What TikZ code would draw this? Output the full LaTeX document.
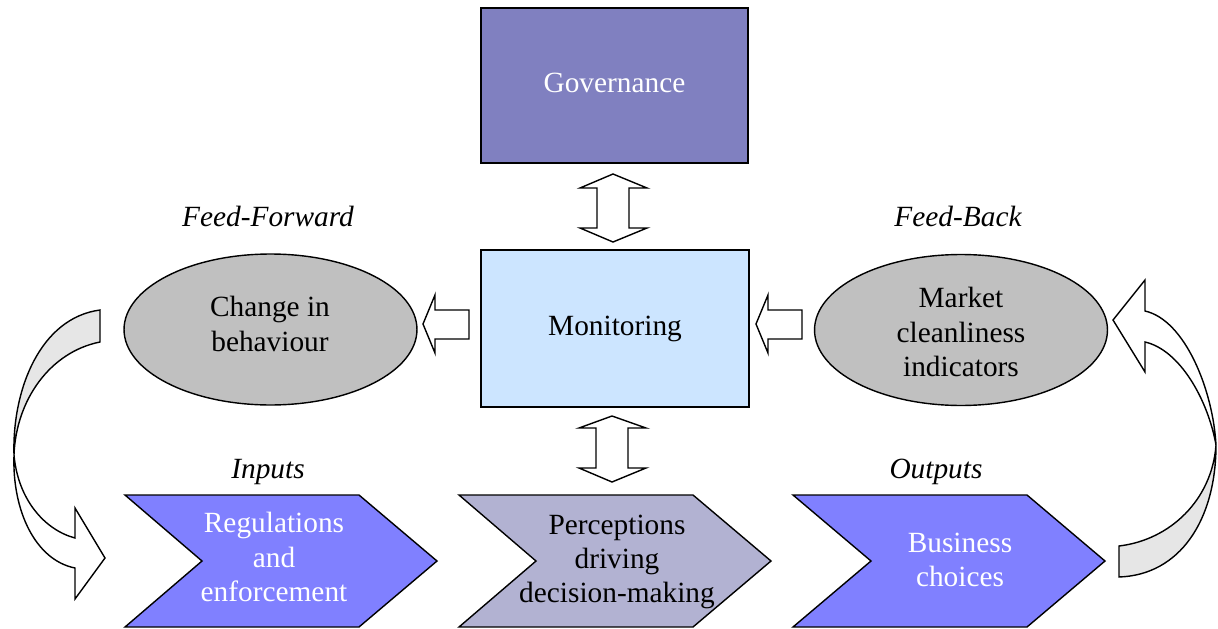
\documentclass[tikz,border=0pt]{standalone}
\usepackage{fontspec}
\setmainfont{Liberation Serif}
\usetikzlibrary{shapes.geometric}
\definecolor{govfill}{HTML}{8080C0}
\definecolor{monfill}{HTML}{CCE5FF}
\definecolor{ovalfill}{HTML}{C0C0C0}
\definecolor{chevfill}{HTML}{8080FF}
\definecolor{midfill}{HTML}{B2B2D2}
\definecolor{bandfill}{HTML}{E6E6E6}
\begin{document}
\begin{tikzpicture}[x=0.02cm,y=-0.02cm,line width=0.8pt,
    every node/.style={font=\fontsize{16.7}{19.6}\selectfont,align=center},
    box/.style={draw,inner sep=0pt},
    oval/.style={draw,ellipse,fill=ovalfill,minimum width=5.86cm,minimum height=3.02cm,inner sep=0pt},
    flowlabel/.style={font=\fontsize{16.7}{19.6}\selectfont\itshape},
    blockarrow/.style={draw,fill=white,line join=miter},
    band/.style={draw,fill=bandfill}]
  \useasboundingbox (0,0) rectangle (1218,629);
  % boxes and ovals
  \node[box,fill=govfill,text=white,text depth=0.12cm,minimum width=5.34cm,minimum height=3.1cm] (gov) at (614.5,85.5) {Governance};
  \node[box,fill=monfill,minimum width=5.36cm,minimum height=3.14cm] (mon) at (615,328.5) {Monitoring};
  \node[oval] (change) at (270.5,329.5) {};
  \node (changetext) at (270,324) {Change in\\behaviour};
  \node[oval] (market) at (961,330) {};
  \node (markettext) at (961,332) {Market\\cleanliness\\indicators};
  \node[flowlabel] (ff) at (268,216) {Feed-Forward};
  \node[flowlabel] (fb) at (958,216) {Feed-Back};
  \node[flowlabel] (inputs) at (268,472) {Inputs};
  \node[flowlabel] (outputs) at (936,472) {Outputs};
  % block arrows round monitoring
  \begin{scope}[blockarrow]
    \draw (613,174) -- (647,188) -- (629,188) -- (629,228) -- (647,228) -- (613,242)
      -- (580,228) -- (597,228) -- (597,188) -- (580,188) -- cycle;
    \draw (612,416) -- (646,428) -- (628,428) -- (628,468) -- (646,468) -- (612,482)
      -- (579,468) -- (596,468) -- (596,428) -- (579,428) -- cycle;
    \draw (423,324) -- (435,295) -- (435,310) -- (469,310) -- (469,339) -- (435,339) -- (435,353) -- cycle;
    \draw (756,324) -- (768,295) -- (768,310) -- (802,310) -- (802,339) -- (768,339) -- (768,353) -- cycle;
  \end{scope}
  % chevrons
  \draw[fill=chevfill] (125,495) -- (359,495) -- (437,561) -- (359,627) -- (125,627) -- (202,561) -- cycle;
  \node[text=white] (reg) at (274,557) {Regulations\\and\\enforcement};
  \draw[fill=midfill] (459,495) -- (693,495) -- (771,561) -- (693,627) -- (459,627) -- (536,561) -- cycle;
  \node (perc) at (617,562) {Perceptions\\driving\\decision-making};
  \draw[fill=chevfill] (793,495) -- (1027,495) -- (1105,561) -- (1027,627) -- (793,627) -- (871,561) -- cycle;
  \node[text=white] (biz) at (960,560) {Business\\choices};
  % curved arrows
  \draw[band] (100,310) -- (100,342) .. controls (50,352) and (16,400) .. (14,455)
    .. controls (12,390) and (40,318) .. (100,310) -- cycle;
  \draw[blockarrow] (14,455) .. controls (18,500) and (45,530) .. (75,538) -- (75,508) -- (105,558)
    -- (75,599) -- (75,568) .. controls (35,560) and (12,510) .. (14,455) -- cycle;
  \draw[band] (1119,546) -- (1119,577) .. controls (1180,575) and (1216,520) .. (1216,445)
    .. controls (1212,500) and (1170,540) .. (1119,546) -- cycle;
  \draw[blockarrow] (1216,445) .. controls (1213,390) and (1185,320) .. (1145,311) -- (1145,280) -- (1113,320)
    -- (1145,372) -- (1145,342) .. controls (1180,350) and (1208,400) .. (1216,445) -- cycle;
\end{tikzpicture}
\end{document}
